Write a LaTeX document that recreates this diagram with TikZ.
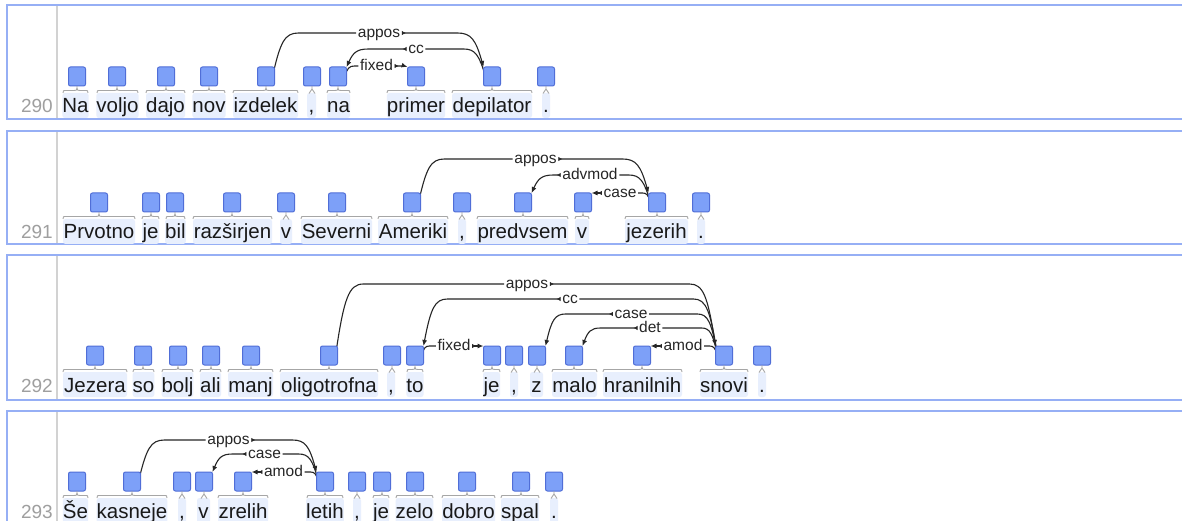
\documentclass[tikz,border=0pt]{standalone}
\usepackage{fontspec}
\setmainfont{Liberation Sans}
\usetikzlibrary{calc,arrows.meta}
\pgfdeclarelayer{bgl}
\pgfdeclarelayer{arcs}
\pgfsetlayers{bgl,arcs,main}
\definecolor{sqF}{RGB}{125,160,248}
\definecolor{sqB}{RGB}{80,110,215}
\definecolor{wbg}{RGB}{232,239,253}
\definecolor{rowB}{RGB}{150,175,245}
\tikzset{
 sq/.style={draw=sqB, fill=sqF, rounded corners=2pt, minimum width=17pt, minimum height=19pt, inner sep=0pt, outer sep=0pt, line width=1pt},
 wd/.style={fill=wbg, rounded corners=2.5pt, inner xsep=0pt, inner ysep=0pt, text height=20pt, text depth=5pt, anchor=base, font=\fontsize{20.5}{20.5}\selectfont, text=black!90},
 lab/.style={font=\fontsize{15.5}{15.5}\selectfont, inner xsep=1.5pt, inner ysep=0pt, text height=9.5pt, text depth=0pt, text=black!85},
 arcl/.style={draw=black!85, line width=1.1pt},
 brk/.style={draw=gray!70, line width=0.9pt},
 rowbox/.style={draw=rowB, line width=2pt},
 sepl/.style={draw=gray!35, line width=2.5pt},
 num/.style={font=\fontsize{19}{19}\selectfont, text=gray!75, anchor=base east, inner sep=0pt},
}
\newcommand\mktok[6]{%
  \node[sq] (#1) at (#2,#5+9.5) {};
  \node[wd,minimum width={#4-#3}] (#1w) at ({(#3+#4)/2},#5+46) {#6};
  \pgfmathsetmacro\tkw{#4-#3}%
  \ifdim\tkw pt<14pt
    \draw[brk] (#1.south) -- (#2,#5+22) (#2-3,#5+26.5) -- (#2,#5+22) -- (#2+3,#5+26.5);
  \else
    \draw[brk] (#1.south) -- (#2,#5+21) (#3,#5+26) .. controls (#3,#5+23.5) .. (#3+4,#5+23.5) -- (#2-3,#5+23.5) .. controls (#2-0.5,#5+23.5) .. (#2,#5+21) .. controls (#2+0.5,#5+23.5) .. (#2+3,#5+23.5) -- (#4-4,#5+23.5) .. controls (#4,#5+23.5) .. (#4,#5+26);
  \fi
}
% rightward arc: #1 origin, #2 target, #3 level, #4 label x, #5 text, #6 label name, #7 Wo, #8 Wt
\newcommand\arcR[8]{%
 \begin{pgfonlayer}{arcs}
 \node[lab] (#6) at (#4,#3) {#5};
 \draw[arcl] let \p1=($(#1.east)+(-2,0)$), \p2=(#6.west) in
   (\p1) .. controls ({\x1+0.3*#7pt},{\y1+0.8*(\y2-\y1)}) and ({\x1+0.47*#7pt},\y2) .. ({\x1+#7pt},\y2) -- (\p2);
 \draw[arcl,{Latex[reversed,length=4pt,width=4.5pt]}-{Latex[length=6pt,width=5pt]}] let \p1=(#2.north west), \p2=(#6.east) in
   (\p2) -- ({\x1-#8pt},\y2) .. controls ({\x1-0.47*#8pt},\y2) and ({\x1-0.3*#8pt},{\y1+0.8*(\y2-\y1)}) .. (\p1);
 \end{pgfonlayer}
}
\newcommand\arcL[8]{%
 \begin{pgfonlayer}{arcs}
 \node[lab] (#6) at (#4,#3) {#5};
 \draw[arcl] let \p1=($(#1.west)+(2,0)$), \p2=(#6.east) in
   (\p1) .. controls ({\x1-0.3*#7pt},{\y1+0.8*(\y2-\y1)}) and ({\x1-0.47*#7pt},\y2) .. ({\x1-#7pt},\y2) -- (\p2);
 \draw[arcl,{Latex[reversed,length=4pt,width=4.5pt]}-{Latex[length=6pt,width=5pt]}] let \p1=(#2.north east), \p2=(#6.west) in
   (\p2) -- ({\x1+#8pt},\y2) .. controls ({\x1+0.47*#8pt},\y2) and ({\x1+0.3*#8pt},{\y1+0.8*(\y2-\y1)}) .. (\p1);
 \end{pgfonlayer}
}
\begin{document}
\begin{tikzpicture}[x=1pt,y=-1pt]
\useasboundingbox (0,0) rectangle (1182,521);
\begin{pgfonlayer}{bgl}\fill[white] (0,0) rectangle (1182,521);\end{pgfonlayer}
% rows
\draw[rowbox] (7,5) rectangle (1200,119);
\draw[rowbox] (7,131) rectangle (1200,244);
\draw[rowbox] (7,255) rectangle (1200,400);
\draw[rowbox] (7,411) rectangle (1200,540);
\draw[sepl] (57,6) -- (57,118);
\draw[sepl] (57,132) -- (57,243);
\draw[sepl] (57,256) -- (57,399);
\draw[sepl] (57,412) -- (57,530);
\node[num] (n290) at (53,113) {290};
\node[num] (n291) at (53,239) {291};
\node[num] (n292) at (53,392) {292};
\node[num] (n293) at (53,518) {293};
% row 290
\mktok{a1}{77}{63}{88}{67}{Na}
\mktok{a2}{117}{97}{138}{67}{voljo}
\mktok{a3}{166}{146}{185}{67}{dajo}
\mktok{a4}{209}{193}{225}{67}{nov}
\mktok{a5}{266}{233}{298}{67}{izdelek}
\mktok{a6}{312}{307}{316}{67}{,}
\mktok{a7}{338}{327}{350}{67}{na}
\mktok{a8}{416}{387}{445}{67}{primer}
\mktok{a9}{492}{452}{532}{67}{depilator}
\mktok{a10}{546}{542}{550}{67}{.}
% row 291
\mktok{b1}{99}{63}{135}{193}{Prvotno}
\mktok{b2}{151}{142}{159}{193}{je}
\mktok{b3}{175}{166}{185}{193}{bil}
\mktok{b4}{232}{193}{272}{193}{razširjen}
\mktok{b5}{286}{280}{292}{193}{v}
\mktok{b6}{337}{301}{372}{193}{Severni}
\mktok{b7}{412}{378}{448}{193}{Ameriki}
\mktok{b8}{462}{458}{466}{193}{,}
\mktok{b9}{523}{477}{568}{193}{predvsem}
\mktok{b10}{583}{575}{589}{193}{v}
\mktok{b11}{657}{625}{688}{193}{jezerih}
\mktok{b12}{701}{697}{705}{193}{.}
% row 292
\mktok{c1}{95}{63}{127}{346}{Jezera}
\mktok{c2}{143}{133}{154}{346}{so}
\mktok{c3}{178}{162}{193}{346}{bolj}
\mktok{c4}{211}{200}{221}{346}{ali}
\mktok{c5}{251}{228}{273}{346}{manj}
\mktok{c6}{329}{280}{378}{346}{oligotrofna}
\mktok{c7}{392}{387}{395}{346}{,}
\mktok{c8}{415}{407}{423}{346}{to}
\mktok{c9}{492}{483}{500}{346}{je}
\mktok{c10}{514}{510}{518}{346}{,}
\mktok{c11}{537}{530}{543}{346}{z}
\mktok{c12}{574}{552}{597}{346}{malo}
\mktok{c13}{642}{603}{682}{346}{hranilnih}
\mktok{c14}{724}{700}{748}{346}{snovi}
\mktok{c15}{762}{758}{766}{346}{.}
% row 293
\mktok{d1}{77}{63}{88}{472}{Še}
\mktok{d2}{132}{97}{167}{472}{kasneje}
\mktok{d3}{182}{178}{186}{472}{,}
\mktok{d4}{204}{197}{210}{472}{v}
\mktok{d5}{243}{218}{268}{472}{zrelih}
\mktok{d6}{325}{307}{343}{472}{letih}
\mktok{d7}{357}{353}{361}{472}{,}
\mktok{d8}{382}{373}{389}{472}{je}
\mktok{d9}{415}{396}{433}{472}{zelo}
\mktok{d10}{467}{442}{495}{472}{dobro}
\mktok{d11}{521}{501}{539}{472}{spal}
\mktok{d12}{554}{550}{558}{472}{.}
% arcs row 290
\arcR{a5}{a9}{33}{379}{appos}{l1}{26}{26}
\arcL{a9}{a7}{49}{416}{cc}{l2}{22}{22}
\arcR{a7}{a8}{66}{376.5}{fixed}{l3}{10}{8}
% arcs row 291
\arcR{b7}{b11}{159}{535.5}{appos}{l4}{26}{26}
\arcL{b11}{b9}{175}{590}{advmod}{l5}{22}{22}
\arcL{b11}{b10}{193}{620}{case}{l6}{8}{6}
% arcs row 292
\arcR{c6}{c14}{284}{527}{appos}{l7}{28}{26}
\arcL{c14}{c8}{299}{570}{cc}{l8}{24}{24}
\arcL{c14}{c11}{314}{631}{case}{l9}{20}{20}
\arcL{c14}{c12}{328}{650}{det}{l10}{16}{18}
\arcL{c14}{c13}{346}{683}{amod}{l11}{8}{6}
\arcR{c8}{c9}{346}{454}{fixed}{l12}{8}{6}
% arcs row 293
\arcR{d2}{d6}{440}{228.5}{appos}{l13}{26}{24}
\arcL{d6}{d4}{454}{264.5}{case}{l14}{20}{20}
\arcL{d6}{d5}{472}{283.5}{amod}{l15}{8}{6}
\end{tikzpicture}
\end{document}
